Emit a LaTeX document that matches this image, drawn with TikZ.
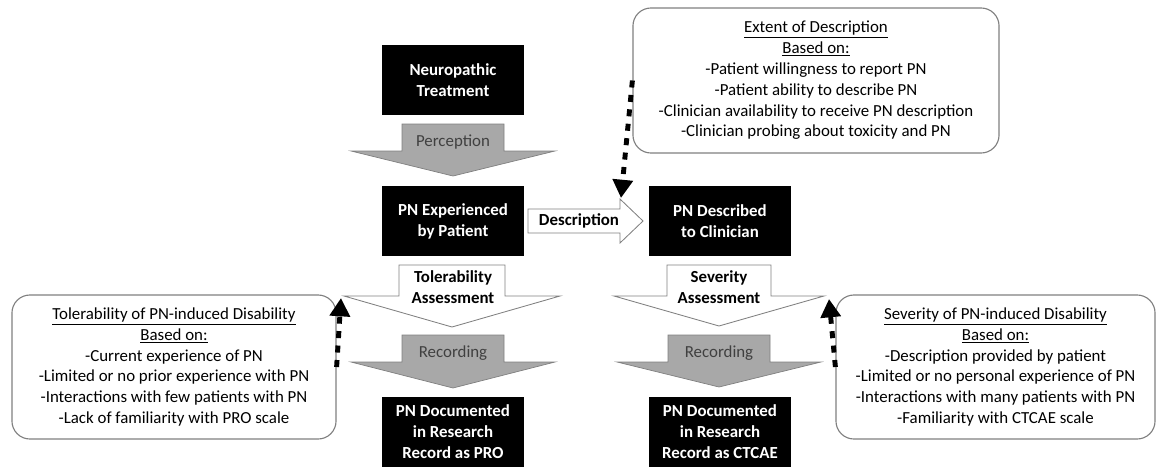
\documentclass[tikz,border=0pt]{standalone}
\usepackage{fontspec}
\setmainfont{Carlito}
\usepackage{tikz}
\usetikzlibrary{arrows.meta}

\definecolor{arrowgray}{RGB}{168,168,168}
\definecolor{edgegray}{RGB}{128,128,128}
\definecolor{labelgray}{RGB}{64,64,64}

\tikzset{
  blackbox/.style={fill=black, text=white, inner sep=0pt, align=center,
    minimum width=3.55cm, minimum height=1.76cm,
    font=\bfseries\fontsize{12}{15}\selectfont},
  infobox/.style={draw=edgegray, line width=0.8pt, rounded corners=0.45cm,
    fill=white, inner sep=0pt, align=center, minimum height=3.6cm,
    font=\fontsize{12}{14.8}\selectfont},
  grayarrow/.style={fill=arrowgray, draw=edgegray, line width=0.5pt},
  whitearrow/.style={fill=white, draw=edgegray, line width=0.6pt},
  graylabel/.style={inner sep=0pt, text=labelgray, align=center,
    font=\fontsize{12}{15}\selectfont},
  boldlabel/.style={inner sep=0pt, text=black, align=center,
    font=\bfseries\fontsize{12}{15}\selectfont},
  influence/.style={line width=3.5pt, dash pattern=on 5pt off 5.3pt,
    -{Triangle[length=13pt,width=14pt]}}
}

\begin{document}
\begin{tikzpicture}[x=0.025cm,y=-0.025cm]
\useasboundingbox (0,0) rectangle (1157,468);

% block arrows pointing down
\foreach \cx/\ys/\yw/\yt/\hs/\hw/\st in {453/124/151/176/51/102/grayarrow,
    452/265/296/327/53/108/whitearrow, 453/335/362/388/51/102/grayarrow,
    719/265/296/326/52/105/whitearrow, 719/335/362/387/51/102/grayarrow}
    \draw[\st] (\cx-\hs,\ys) -- (\cx+\hs,\ys) -- (\cx+\hs,\yw) -- (\cx+\hw,\yw)
        -- (\cx,\yt) -- (\cx-\hw,\yw) -- (\cx-\hs,\yw) -- cycle;

% block arrow pointing right
\draw[whitearrow] (528,209) -- (620,209) -- (620,199) -- (643,221)
    -- (620,243) -- (620,233) -- (528,233) -- cycle;

\node[graylabel] (perception) at (453,142) {Perception};
\node[boldlabel] (description) at (579,221) {Description};
\node[boldlabel] (tolerability) at (453,287) {Tolerability\\Assessment};
\node[graylabel] (recordpro) at (453,353) {Recording};
\node[boldlabel] (severity) at (719,287) {Severity\\Assessment};
\node[graylabel] (recordct) at (719,353) {Recording};

% black boxes
\node[blackbox] (treat) at (453,80) {Neuropathic\\Treatment};
\node[blackbox] (exper) at (453,221) {PN Experienced\\by Patient};
\node[blackbox] (descr) at (720,221) {PN Described\\to Clinician};
\node[blackbox] (docpro) at (453,432) {PN Documented\\in Research\\Record as PRO};
\node[blackbox] (docct) at (720,432) {PN Documented\\in Research\\Record as CTCAE};

% rounded boxes
\node[infobox, minimum width=9.15cm, minimum height=3.625cm] (extent) at (816,80.5)
  {\underline{Extent of Description}\\\underline{Based on:}\\-Patient willingness to report PN\\
   -Patient ability to describe PN\\-Clinician availability to receive PN description\\
   -Clinician probing about toxicity and PN};
\node[infobox, minimum width=8.1cm] (toler) at (174,367)
  {\underline{Tolerability of PN-induced Disability}\\\underline{Based on:}\\
   -Current experience of PN\\-Limited or no prior experience with PN\\
   -Interactions with few patients with PN\\-Lack of familiarity with PRO scale};
\node[infobox, minimum width=7.975cm] (sever) at (995.5,367)
  {\underline{Severity of PN-induced Disability}\\\underline{Based on:}\\
   -Description provided by patient\\-Limited or no personal experience of PN\\
   -Interactions with many patients with PN\\-Familiarity with CTCAE scale};

% dotted influences
\coordinate (dhead) at (621,198);
\coordinate (twing) at (341,298);
\coordinate (swing) at (829,299);

\draw[influence] (extent.west) -- (dhead);
\draw[influence] (toler.east) -- (twing);
\draw[influence] (sever.west) -- (swing);

\end{tikzpicture}
\end{document}
